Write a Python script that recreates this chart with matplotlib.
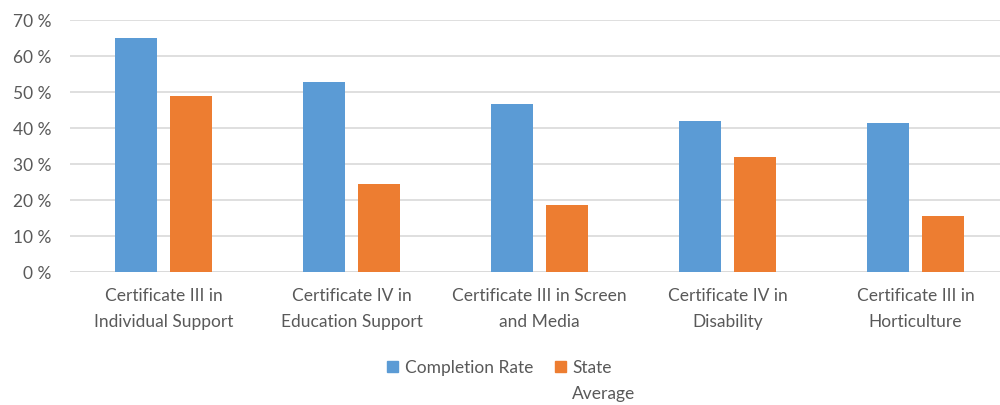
import matplotlib.pyplot as plt
import numpy as np
from matplotlib.patches import Rectangle

categories = ["Certificate III in\nIndividual Support", "Certificate IV in\nEducation Support",
              "Certificate III in Screen\nand Media", "Certificate IV in\nDisability",
              "Certificate III in\nHorticulture"]
completion = [65.0, 52.7, 46.5, 41.8, 41.4]
state_avg = [48.9, 24.3, 18.6, 31.9, 15.4]
yticks = [0, 10, 20, 30, 40, 50, 60, 70]
series = ["Completion Rate", "State\nAverage"]
colors = ['#5B9BD5', '#ED7D31']

plt.rcParams['font.family'] = ['Lato', 'DejaVu Sans']
grey = '#595959'
fs = 12.5

fig = plt.figure(figsize=(10, 4.06), dpi=100)
ax = fig.add_axes([0.0695, 0.3283, 0.9305, 0.62])

x = np.arange(len(categories))
w = 0.223
ax.bar(x - 0.146, completion, w, color=colors[0], zorder=3)
ax.bar(x + 0.146, state_avg, w, color=colors[1], zorder=3)

ax.set_xlim(-0.5, 4.45)
ax.set_ylim(0, 70)
ax.set_yticks(yticks)
ax.set_yticklabels([f"{v} %" for v in yticks])
ax.set_xticks(x)
ax.set_xticklabels(categories, linespacing=1.75)
ax.yaxis.grid(True, color='#D9D9D9', lw=1.2, zorder=0)
ax.tick_params(axis='y', length=0, pad=13, labelsize=fs, labelcolor=grey)
ax.tick_params(axis='x', length=0, pad=11, labelsize=fs, labelcolor=grey)
for s in ax.spines.values():
    s.set_visible(False)
ax.axhline(0, color='#D9D9D9', lw=1.2, zorder=1)

# legend drawn by hand so the two-line label sits like the original
H = 406.0
for (sx, tx), lab, c in zip([(387, 405), (555, 572)], series, colors):
    fig.patches.append(Rectangle((sx / 1000, 1 - 373 / H), 11 / 1000, 11 / H,
                                 transform=fig.transFigure, color=c))
    fig.text(tx / 1000, 1 - 360 / H, lab, ha='left', va='top', fontsize=fs,
             color=grey, linespacing=1.75)

fig.savefig('out.png', dpi=100)
